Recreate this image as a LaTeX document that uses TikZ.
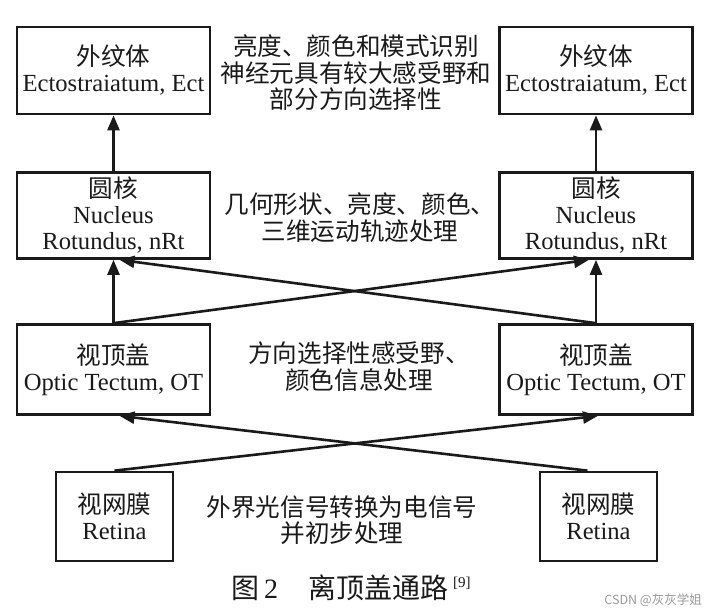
\documentclass[tikz,border=0pt]{standalone}
\usepackage{fontspec}
\setmainfont{Liberation Serif}
\newfontfamily\cjk{Noto Sans CJK SC}
\usetikzlibrary{arrows.meta}
\definecolor{ink}{HTML}{1A1A1A}
\begin{document}
\begin{tikzpicture}[x=1pt,y=-1pt,
  box/.style={draw=ink, line width=2.7pt, minimum width=193pt, minimum height=87pt,
    inner sep=0pt, align=center, text=ink, font=\fontsize{24.6}{26}\selectfont},
  arr/.style={draw=ink, line width=2.6pt, -{Triangle[length=15pt,width=12pt]}},
  lbl/.style={align=center, text=ink, inner sep=0pt, font=\cjk\fontsize{24.6}{26.5}\selectfont}]
\useasboundingbox[fill=white] (0,0) rectangle (704,612);

% left column
\node[box] (ectL) at (113.5,70.5) {{\cjk 外纹体}\\Ectostraiatum, Ect};
\node[box, minimum height=86pt] (nrtL) at (113.5,215.5) {{\cjk 圆核}\\Nucleus\\Rotundus, nRt};
\node[box, minimum height=90pt] (otL) at (113.5,369.5) {{\cjk 视顶盖}\\Optic Tectum, OT};
\node[box, minimum width=117pt, minimum height=89pt] (retL) at (114.5,516.5) {{\cjk 视网膜}\\Retina};

% right column
\node[box] (ectR) at (596,70.5) {{\cjk 外纹体}\\Ectostraiatum, Ect};
\node[box, minimum height=86pt] (nrtR) at (596,215.5) {{\cjk 圆核}\\Nucleus\\Rotundus, nRt};
\node[box, minimum height=90pt] (otR) at (596,369.5) {{\cjk 视顶盖}\\Optic Tectum, OT};
\node[box, minimum width=117pt, minimum height=89pt] (retR) at (598.5,516.5) {{\cjk 视网膜}\\Retina};

% labels
\node[lbl] (t1) at (356,73) {亮度、颜色和模式识别\\神经元具有较大感受野和\\部分方向选择性};
\node[lbl] (t2) at (360,217.5) {几何形状、亮度、颜色、\\三维运动轨迹处理};
\node[lbl] (t3) at (359,366.5) {方向选择性感受野、\\颜色信息处理};
\node[lbl] (t4) at (342,520) {外界光信号转换为电信号\\并初步处理};

% caption
\node[text=ink, inner sep=0pt, font=\fontsize{28}{30}\selectfont] (cap) at (351,588)
  {{\cjk 图}\,2\hspace{30pt}{\cjk 离顶盖通路}\hspace{5pt}\raisebox{11pt}{\fontsize{15}{15}\selectfont[9]}};
\node[anchor=east, text=black!40, inner sep=0pt, font=\cjk\fontsize{12.5}{13}\selectfont] (wm) at (702,600) {CSDN @灰灰学姐};

% arrows
\draw[arr] (nrtL.north) -- (ectL.south);
\draw[arr] (nrtR.north) -- (ectR.south);
\draw[arr] (otL.north) -- (nrtL.south);
\draw[arr] (otR.north) -- (nrtR.south);
\draw[arr] (otL.north) -- ([xshift=-7pt]nrtR.south);
\draw[arr] (otR.north) -- ([xshift=6pt]nrtL.south);
\draw[arr] (retL.north) -- ([xshift=2pt]otR.south);
\draw[arr] ([xshift=-11pt]retR.north) -- ([xshift=6pt]otL.south);
\end{tikzpicture}
\end{document}
